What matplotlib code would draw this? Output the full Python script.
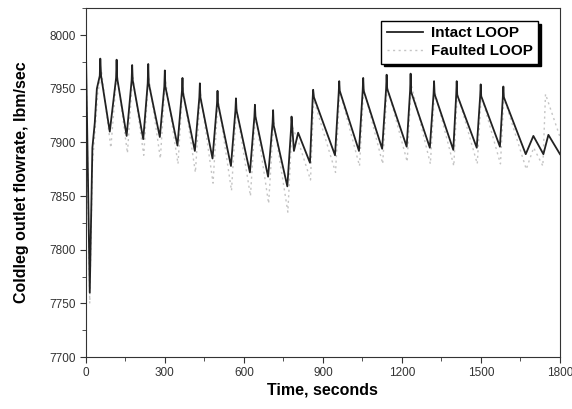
import matplotlib
matplotlib.use('Agg')
import matplotlib.pyplot as plt
from matplotlib.ticker import MultipleLocator

plt.rcParams['font.family'] = ['Liberation Sans', 'DejaVu Sans']

# Intact loop: turning points (time s, flowrate lbm/sec)
intact_t = [0, 15, 25, 34, 42, 53, 55, 58, 91, 115, 117, 119, 155, 174, 176, 178, 218,
            235, 237, 239, 281, 298, 300, 302, 348, 365, 367, 369, 414, 431, 433, 435,
            481, 498, 500, 502, 551, 568, 570, 572, 623, 640, 642, 644, 692, 709, 711, 713,
            765, 779, 781, 790, 806, 851, 861, 863, 866, 946, 960, 962, 964, 1037,
            1051, 1053, 1055, 1125, 1140, 1142, 1144, 1218, 1231, 1233, 1235, 1306,
            1320, 1322, 1324, 1395, 1406, 1408, 1410, 1484, 1497, 1499, 1501, 1572,
            1583, 1585, 1587, 1670, 1699, 1737, 1756, 1800]
intact_v = [7995, 7760, 7895, 7918, 7950, 7962, 7978, 7962, 7910, 7960, 7977, 7960, 7906,
            7958, 7972, 7958, 7903, 7955, 7973, 7955, 7905, 7952, 7967, 7952, 7897,
            7948, 7960, 7946, 7892, 7942, 7955, 7942, 7885, 7936, 7948, 7936, 7878,
            7930, 7941, 7930, 7872, 7924, 7935, 7924, 7868, 7918, 7930, 7916, 7859,
            7912, 7924, 7892, 7909, 7881, 7940, 7949, 7942, 7888, 7946, 7957, 7948, 7892,
            7948, 7960, 7948, 7894, 7950, 7963, 7950, 7896, 7948, 7964, 7947, 7895,
            7945, 7957, 7945, 7893, 7944, 7957, 7944, 7895, 7943, 7954, 7943, 7896,
            7942, 7952, 7942, 7889, 7906, 7889, 7907, 7889]

# Faulted loop (faint dotted line)
faulted_t = [0, 15, 25, 35, 45, 60, 95, 118, 158, 178, 220, 238, 283, 302, 350, 368,
             416, 435, 483, 502, 553, 572, 625, 644, 694, 713, 767, 783, 808, 853, 865,
             948, 964, 1039, 1055, 1127, 1144, 1220, 1235, 1308, 1324, 1397, 1410,
             1486, 1501, 1574, 1587, 1672, 1700, 1735, 1745, 1800]
faulted_v = [7990, 7750, 7880, 7910, 7945, 7965, 7895, 7965, 7890, 7962, 7888, 7962,
             7885, 7958, 7880, 7952, 7872, 7946, 7862, 7940, 7855, 7932, 7850, 7926,
             7843, 7920, 7835, 7915, 7900, 7865, 7940, 7872, 7948, 7878, 7950, 7880,
             7952, 7882, 7954, 7880, 7948, 7878, 7946, 7880, 7944, 7880, 7942, 7875,
             7895, 7878, 7945, 7905]

fig = plt.figure(figsize=(5.72, 4.09), dpi=100)
ax = fig.add_axes([0.150, 0.127, 0.829, 0.853])

ax.plot(faulted_t, faulted_v, color='#c4c4c4', linestyle=(0, (1.5, 2.5)), linewidth=1.0,
        label='Faulted LOOP', zorder=2)
ax.plot(intact_t, intact_v, color='#222222', linewidth=1.3, label='Intact LOOP', zorder=3)

ax.set_xlim(0, 1800)
ax.set_ylim(7700, 8025)
ax.xaxis.set_major_locator(MultipleLocator(300))
ax.xaxis.set_minor_locator(MultipleLocator(150))
ax.yaxis.set_major_locator(MultipleLocator(50))
ax.yaxis.set_minor_locator(MultipleLocator(25))
ax.tick_params(which='both', direction='out', top=False, right=False,
               labelsize=8.5, colors='#333333')
ax.tick_params(which='major', length=4)
ax.tick_params(which='minor', length=3)
for s in ax.spines.values():
    s.set_color('#333333')

ax.set_xlabel('Time, seconds', fontsize=11.5, fontweight='bold', labelpad=2)
ax.set_ylabel('Coldleg outlet flowrate, lbm/sec', fontsize=11.5, fontweight='bold',
              labelpad=14)

h, l = ax.get_legend_handles_labels()
leg = ax.legend(h[::-1], l[::-1], loc='upper right', bbox_to_anchor=(0.97, 0.985),
                fancybox=False, shadow={'color': 'black', 'alpha': 1},
                edgecolor='black', framealpha=1, prop={'weight': 'bold', 'size': 11},
                handlelength=2.4, borderpad=0.35, labelspacing=0.25, handletextpad=0.5)
leg.get_frame().set_linewidth(1.0)

fig.savefig('out.png', dpi=100)
